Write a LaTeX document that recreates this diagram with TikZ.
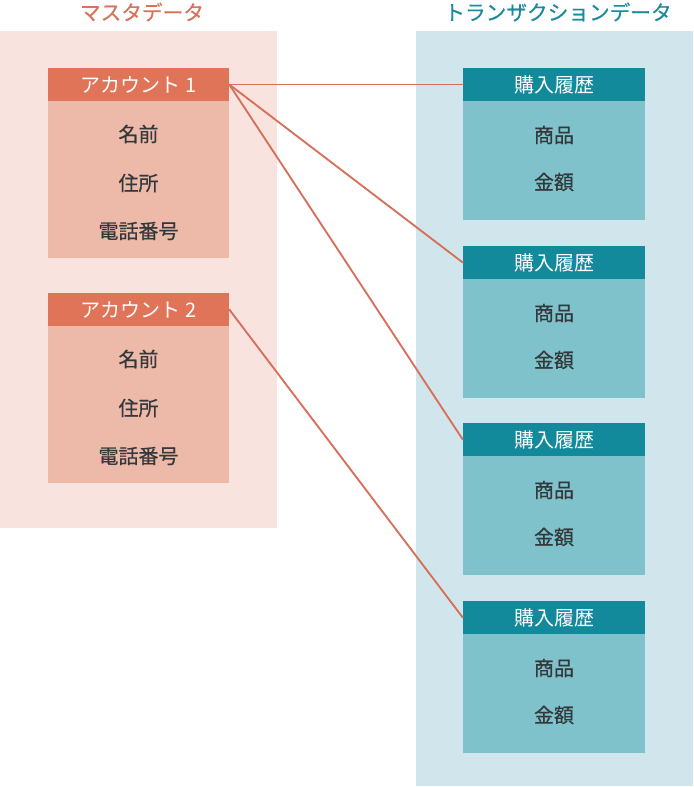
\documentclass[tikz,border=0pt]{standalone}
\usepackage{fontspec}
\setmainfont{Noto Sans CJK JP}
\newfontfamily\medfont[FakeBold=0.5]{Noto Sans CJK JP}
\definecolor{masterbg}{HTML}{F8E3DF}
\definecolor{masterhead}{HTML}{E07458}
\definecolor{masterbody}{HTML}{EDB9A9}
\definecolor{mastertitle}{HTML}{D8735B}
\definecolor{transbg}{HTML}{D1E6EC}
\definecolor{transhead}{HTML}{13899C}
\definecolor{transbody}{HTML}{7FC2CC}
\definecolor{transtitle}{HTML}{1A8A9C}
\definecolor{itemtext}{HTML}{33393B}
\definecolor{linkcol}{HTML}{D6705A}
\tikzset{
  title/.style={font=\medfont\fontsize{15.5}{18}\selectfont, inner sep=0pt},
  head/.style={minimum width=135.75pt, minimum height=24.75pt, inner sep=0pt,
    text=white, font=\fontsize{15}{18}\selectfont},
  item/.style={text=itemtext, inner sep=0pt, font=\medfont\fontsize{15}{18}\selectfont},
  link/.style={draw=linkcol, line width=1.4pt}
}
\begin{document}
\begin{tikzpicture}[x=0.75pt, y=-0.75pt, line cap=round, line join=round]
  \useasboundingbox (0,0) rectangle (693,787);
  % panels
  \fill[masterbg] (0,31) rectangle (277,528);
  \fill[transbg] (416,31) rectangle (693,786);
  \node[title, text=mastertitle] (mtitle) at (142,12) {マスタデータ};
  \node[title, text=transtitle] (ttitle) at (558,12) {トランザクションデータ};
  % accounts
  \foreach \i/\y in {1/68,2/293} {
    \fill[masterbody] (48,\y) rectangle (229,\y+190);
    \node[head, fill=masterhead] (acc\i) at (138.5,\y+16.5) {アカウント \i};
    \node[item] (acc\i name) at (138.5,\y+66) {名前};
    \node[item] (acc\i addr) at (138.5,\y+115) {住所};
    \node[item] (acc\i tel) at (138.5,\y+163) {電話番号};
  }
  % purchases
  \foreach \i/\y in {1/68,2/246,3/423,4/601} {
    \fill[transbody] (463,\y) rectangle (645,\y+152);
    \node[head, fill=transhead, minimum width=136.5pt] (buy\i) at (554,\y+16.5) {購入履歴};
    \node[item] (buy\i item) at (554,\y+67) {商品};
    \node[item] (buy\i price) at (554,\y+114) {金額};
  }
  % links
  \draw[link] (acc1.east) -- (buy1.west);
  \draw[link] (acc1.east) -- (buy2.west);
  \draw[link] (acc1.east) -- (buy3.west);
  \draw[link] (acc2.east) -- (buy4.west);
\end{tikzpicture}
\end{document}
